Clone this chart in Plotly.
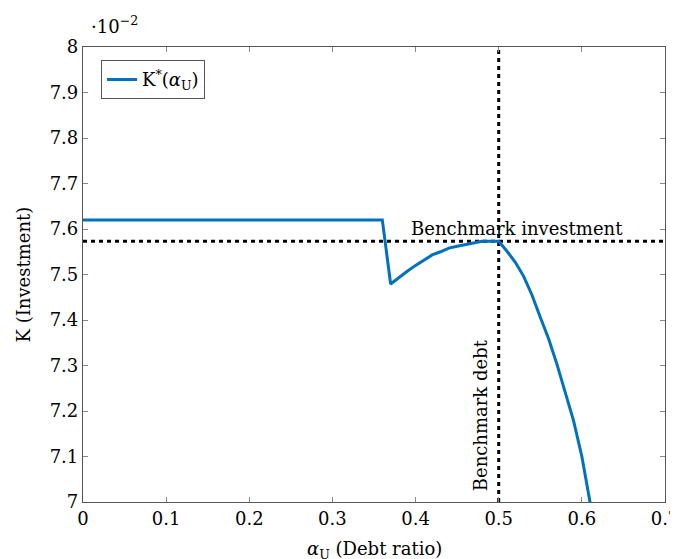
import plotly.graph_objects as go

# Data (K in units of 1e-2)
alpha_u = [0.00, 0.01, 0.02, 0.03, 0.04, 0.05, 0.06, 0.07, 0.08, 0.09,
           0.10, 0.11, 0.12, 0.13, 0.14, 0.15, 0.16, 0.17, 0.18, 0.19,
           0.20, 0.21, 0.22, 0.23, 0.24, 0.25, 0.26, 0.27, 0.28, 0.29,
           0.30, 0.31, 0.32, 0.33, 0.34, 0.35, 0.36,
           0.37, 0.38, 0.39, 0.40, 0.41, 0.42, 0.43, 0.44, 0.45, 0.46,
           0.47, 0.48, 0.49, 0.50, 0.51, 0.52, 0.53, 0.54, 0.55, 0.56,
           0.57, 0.58, 0.59, 0.60, 0.61]
k_star = [7.62] * 37 + [
    7.479, 7.494, 7.507, 7.520, 7.531, 7.543, 7.550, 7.558, 7.562, 7.566,
    7.570, 7.573, 7.573, 7.573, 7.551, 7.527, 7.496, 7.455, 7.406, 7.359,
    7.303, 7.242, 7.179, 7.100, 6.998]

benchmark_debt = 0.5
benchmark_investment = 7.573

x_ticks = [0, 0.1, 0.2, 0.3, 0.4, 0.5, 0.6, 0.7]
x_ticktext = ["0", "0.1", "0.2", "0.3", "0.4", "0.5", "0.6", "0.7"]
y_ticks = [7.0, 7.1, 7.2, 7.3, 7.4, 7.5, 7.6, 7.7, 7.8, 7.9, 8.0]
y_ticktext = ["7", "7.1", "7.2", "7.3", "7.4", "7.5", "7.6", "7.7", "7.8", "7.9", "8"]

FONT = "DejaVu Serif"
FS = 18
BLUE = "#0072BD"

fig = go.Figure()

fig.add_trace(go.Scatter(
    x=[0, 0.7], y=[benchmark_investment, benchmark_investment],
    mode="lines", line=dict(color="black", width=3, dash="4px,4px"),
    showlegend=False, hoverinfo="skip"))
fig.add_trace(go.Scatter(
    x=[benchmark_debt, benchmark_debt], y=[7.0, 8.0],
    mode="lines", line=dict(color="black", width=3, dash="4px,4px"),
    showlegend=False, hoverinfo="skip"))

fig.add_trace(go.Scatter(
    x=alpha_u, y=k_star, mode="lines",
    line=dict(color=BLUE, width=3),
    name="K<sup>*</sup>(<i>α</i><sub>U</sub>)"))

axis_common = dict(
    showline=True, linecolor="#555555", linewidth=1.2, mirror="ticks",
    ticks="inside", ticklen=5, tickcolor="#888888", showgrid=False,
    zeroline=False, automargin=False, ticklabeloverflow="allow",
    tickfont=dict(family=FONT, size=FS, color="black"))

fig.update_xaxes(range=[0, 0.7], tickvals=x_ticks, ticktext=x_ticktext,
                 **axis_common)
fig.update_yaxes(range=[7.0, 8.0], tickvals=y_ticks, ticktext=y_ticktext,
                 **axis_common)

# axis titles
fig.add_annotation(x=0, y=0.5, xref="paper", yref="paper",
                   text="K (Investment)", showarrow=False, textangle=-90,
                   xanchor="center", yanchor="middle", xshift=-60,
                   font=dict(family=FONT, size=FS, color="black"))
fig.add_annotation(x=0.5, y=0, xref="paper", yref="paper",
                   text="<i>α</i><sub>U</sub> (Debt ratio)", showarrow=False,
                   xanchor="center", yanchor="middle", yshift=-48,
                   font=dict(family=FONT, size=FS, color="black"))

fig.add_annotation(x=0.5214, y=benchmark_investment, xref="x", yref="y",
                   text="Benchmark investment", showarrow=False,
                   yanchor="bottom", yshift=0,
                   font=dict(family=FONT, size=FS, color="black"))
fig.add_annotation(x=benchmark_debt, y=7.0, xref="x", yref="y",
                   text="Benchmark debt", showarrow=False, textangle=-90,
                   xanchor="right", yanchor="bottom", xshift=-6, yshift=9,
                   font=dict(family=FONT, size=FS, color="black"))
fig.add_annotation(x=0, y=1, xref="paper", yref="paper",
                   text="·10<sup>−2</sup>", showarrow=False,
                   xanchor="left", yanchor="bottom", xshift=6, yshift=8,
                   font=dict(family=FONT, size=FS, color="black"))

fig.update_layout(
    width=670, height=551,
    margin=dict(l=75, r=13, t=39, b=57),
    paper_bgcolor="white", plot_bgcolor="white",
    font=dict(family=FONT, size=FS, color="black"),
    legend=dict(x=0.031, y=0.971, xanchor="left", yanchor="top",
                bordercolor="#555555", borderwidth=1, bgcolor="white",
                font=dict(family=FONT, size=FS, color="black")),
)

fig.write_html("out.html")
